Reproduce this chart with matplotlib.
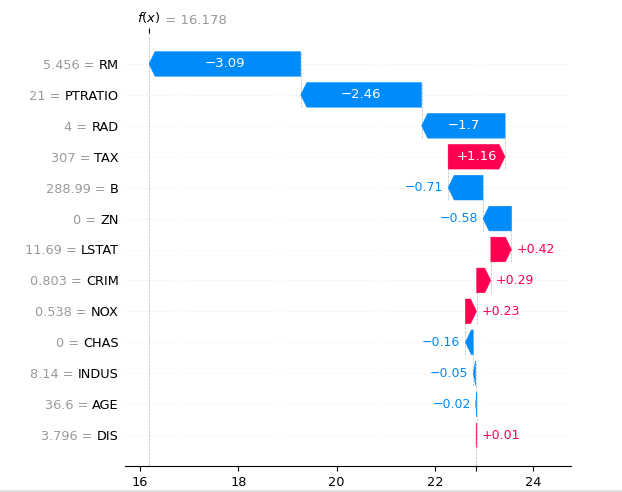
import numpy as np
import matplotlib.pyplot as plt
from matplotlib.lines import Line2D

# data (top row first)
features = ["RM", "PTRATIO", "RAD", "TAX", "B", "ZN", "LSTAT",
            "CRIM", "NOX", "CHAS", "INDUS", "AGE", "DIS"]
feature_values = ["5.456", "21", "4", "307", "288.99", "0", "11.69",
                  "0.803", "0.538", "0", "8.14", "36.6", "3.796"]
shap_values = [-3.09, -2.46, -1.7, 1.16, -0.71, -0.58, 0.42,
               0.29, 0.23, -0.16, -0.05, -0.02, 0.01]
fx = 16.178

RED = "#ff0051"
BLUE = "#008bfb"
FS = 9

base = fx - sum(shap_values)
n = len(features)

fig = plt.figure(figsize=(6.22, 4.92), dpi=100)
ax = fig.add_axes([125 / 622, 1 - 466 / 492, (571 - 125) / 622, (466 - 33) / 492])
ax.set_xlim(15.69, 24.77)
ax.set_ylim(-1, n)

# pixels -> data units along x
px_per_unit = ax.transData.transform((1, 0))[0] - ax.transData.transform((0, 0))[0]
hl = 6.0 / px_per_unit
bar_h = 0.8

fig.canvas.draw()
renderer = fig.canvas.get_renderer()

# walk from the bottom row (base value) up to f(x)
loc = base
for k in range(n - 1, -1, -1):
    y = n - 1 - k
    v = shap_values[k]
    start = loc
    end = loc + v
    color = RED if v > 0 else BLUE
    dist = abs(v)
    sign = 1 if v > 0 else -1
    ax.arrow(start, y, sign * max(dist - hl, 1e-6), 0,
             head_length=min(dist, hl), width=bar_h, head_width=bar_h,
             color=color, length_includes_head=False, lw=0.3, zorder=3)

    label = ("+" if v > 0 else "\u2212") + f"{dist:g}"
    txt = ax.text(start + v / 2, y, label, ha="center", va="center",
                  color="white", fontsize=FS + 0.5, zorder=4)
    tw = txt.get_window_extent(renderer=renderer).width
    if tw + 6 > dist * px_per_unit:
        txt.remove()
        off = 5.0 / px_per_unit
        if v > 0:
            ax.text(end + off, y, label, ha="left", va="center",
                    color=RED, fontsize=FS, zorder=4)
        else:
            ax.text(end - off, y, label, ha="right", va="center",
                    color=BLUE, fontsize=FS, zorder=4)

    # connector to the next bar above
    if k > 0:
        ax.plot([end, end], [y - 0.4, y + 1 + 0.4], color="#bbbbbb",
                ls="--", lw=0.5, zorder=1)
    loc = end

# row guide lines
for y in range(n):
    ax.axhline(y, color="#cccccc", lw=0.5, dashes=(1, 5), zorder=0)

ax.axvline(fx, 0, 1, color="#bbbbbb", ls="--", lw=0.5, zorder=0)
ax.axvline(base, 0, 1.4 / (n + 1), color="#bbbbbb", ls="--", lw=0.5, zorder=0)

# y labels: name in black, value in gray
ax.set_yticks(np.arange(n))
ax.set_yticklabels(features[::-1], fontsize=FS + 0.3)
ax.tick_params(axis="y", length=0, pad=4.5)
fig.canvas.draw()
for tl, val in zip(ax.get_yticklabels(), feature_values[::-1]):
    ax.annotate(val + " = ", xy=(0, 0.5), xycoords=tl, ha="right", va="center",
                color="#999999", fontsize=FS + 0.3)

ax.set_xticks([16, 18, 20, 22, 24])
ax.set_xticks([base], minor=True)
ax.tick_params(axis="x", which="both", labelsize=FS + 0.3, length=3.5, width=0.8)
for s in ["left", "right", "top"]:
    ax.spines[s].set_visible(False)

# f(x) label on top
ax2 = ax.twiny()
ax2.set_xlim(ax.get_xlim())
ax2.set_xticks([fx])
ax2.set_xticklabels(["$f(x)$"], fontsize=FS + 0.5)
ax2.tick_params(axis="x", length=3.5, width=0.8, pad=2)
for s in ax2.spines.values():
    s.set_visible(False)
fig.canvas.draw()
ax2.annotate(" = 16.178", xy=(1, 0.35), xycoords=ax2.get_xticklabels()[0],
             ha="left", va="center", color="#999999", fontsize=FS + 0.5)

fig.add_artist(Line2D([0, 1], [1.5 / 492, 1.5 / 492], color="#e0e0e0", lw=1.5))

fig.savefig("out.png", dpi=100)
